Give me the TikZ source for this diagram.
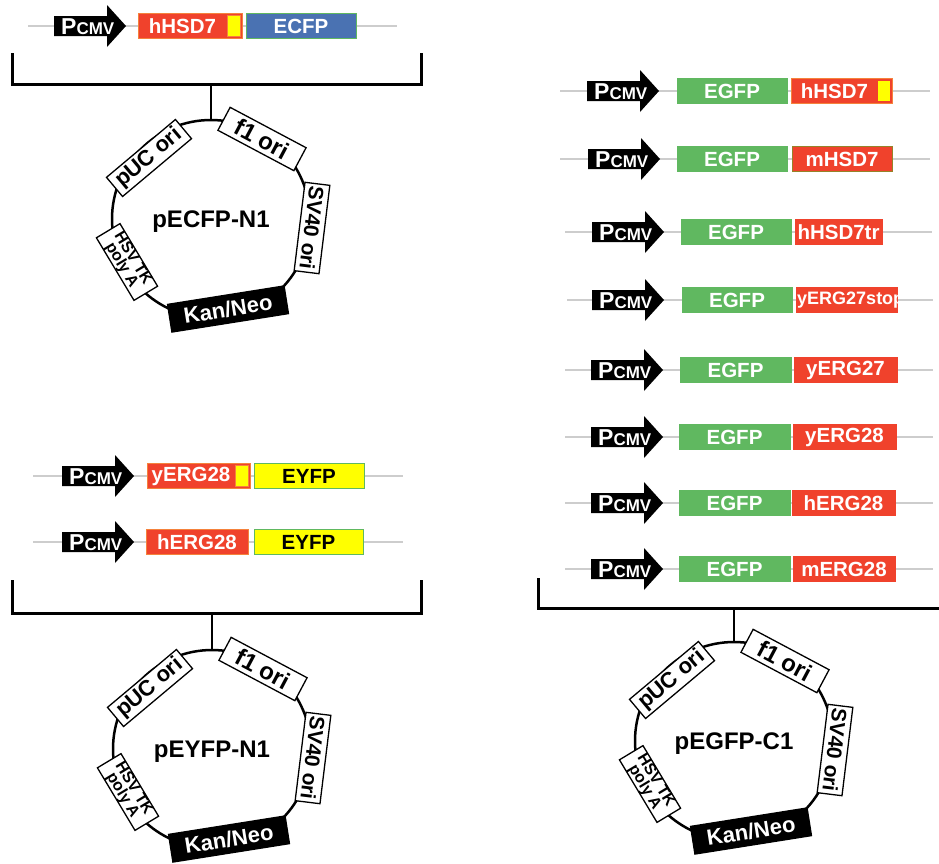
\documentclass[tikz,border=0pt]{standalone}
\usepackage{fontspec}
\setmainfont{Liberation Sans}
\definecolor{gred}{RGB}{240,66,44}
\definecolor{gorange}{RGB}{245,130,60}
\definecolor{ggreen}{RGB}{96,184,96}
\definecolor{gblue}{RGB}{74,114,178}
\definecolor{gyellow}{RGB}{255,255,0}
\definecolor{glinec}{RGB}{205,205,205}
\definecolor{golive}{RGB}{150,130,40}
\tikzset{
  backbone/.style={draw=glinec, line width=1.2pt},
  genebox/.style={rectangle, anchor=west, minimum height=25pt, inner sep=0pt, outer sep=0pt, line width=1pt, font=\bfseries\fontsize{20.5}{24}\selectfont},
  redbox/.style={genebox, fill=gred, draw=gred, text=white},
  redboxo/.style={genebox, fill=gred, draw=gorange, text=white},
  grbox/.style={genebox, fill=ggreen, draw=ggreen, text=white},
  bluebox/.style={genebox, fill=gblue, draw=ggreen, text=white},
  yelbox/.style={genebox, fill=gyellow, draw=ggreen, text=black},
  tabbox/.style={rectangle, anchor=east, fill=gyellow, draw=gorange, minimum width=13pt, minimum height=21pt, inner sep=0pt, line width=1pt},
  ptext/.style={anchor=base west, inner sep=0pt, text=white, font=\bfseries},
  feat/.style={rectangle, draw=black, fill=white, line width=1.3pt, inner sep=0pt, font=\bfseries\fontsize{21}{21}\selectfont},
  plas/.style={circle, draw=black, line width=2.5pt, minimum size=198pt, inner sep=0pt},
  plaslabel/.style={inner sep=0pt, font=\bfseries\fontsize{24}{24}\selectfont},
  bracket/.style={draw=black, line width=3pt},
}
\newcommand\pcmvarrow[3]{%
  \fill[black] (#2,#3-10) -- ++(53,0) -- ++(0,-11) -- ++(19,21) -- ++(-19,21) -- ++(0,-11) -- ++(-53,0) -- cycle;
  \node[ptext] (#1) at (#2+7,#3+8) {\fontsize{23}{23}\selectfont P\fontsize{17}{17}\selectfont CMV};
}
\newcommand\plasmidmap[4]{%
  \node[plas] (#1) at (#2,#3) {};
  \node[plaslabel] (#1lab) at (#2,#3+3) {#4};
  \begin{scope}[shift={(#2,#3)}]
    \node[feat, minimum width=90pt, minimum height=25pt, rotate=40, font=\bfseries\fontsize{22}{22}\selectfont] (#1puc) at (-62,-61) {pUC ori};
    \node[feat, minimum width=86pt, minimum height=26pt, rotate=-28, font=\bfseries\fontsize{24}{24}\selectfont] (#1f1) at (51,-80) {f1 ori};
    \node[feat, minimum width=89pt, minimum height=25pt, rotate=-97] (#1sv) at (101,9) {SV40 ori};
    \node[feat, minimum width=73pt, minimum height=27pt, rotate=-59, align=center, font=\bfseries\fontsize{16}{13}\selectfont] (#1hsv) at (-84,43) {HSV TK\\poly A};
    \node[feat, fill=black, text=white, minimum width=118pt, minimum height=28pt, rotate=9, font=\bfseries\fontsize{22}{22}\selectfont] (#1kan) at (17,90) {Kan/Neo};
  \end{scope}}
\begin{document}
\begin{tikzpicture}[x=1pt,y=-1pt]
\useasboundingbox (0,0) rectangle (939,863);
\fill[white] (0,0) rectangle (939,863);

% ---------- top left construct ----------
\coordinate (a1) at (28,26); \coordinate (a2) at (397,26);
\draw[backbone] (a1) -- (a2);
\pcmvarrow{ap}{54}{26}
\node[redboxo, minimum width=104pt] (ahsd) at (138,26) {\hspace*{-15pt}hHSD7};
\node[tabbox] (atab) at ([xshift=-1pt]ahsd.east) {};
\node[bluebox, minimum width=110pt] (aecfp) at (246,26) {ECFP};

% bracket 1
\coordinate (b1a) at (12,53); \coordinate (b1b) at (12,84);
\coordinate (b1c) at (421,84); \coordinate (b1d) at (421,53);
\coordinate (b1s) at (211,84);
\draw[bracket] (b1a) -- (b1b) -- (b1c) -- (b1d);
\plasmidmap{pa}{211}{219}{pECFP-N1}
\draw[bracket, line width=2.5pt] (b1s) -- (pa.north);

% ---------- bottom left constructs ----------
\coordinate (c1) at (33,476); \coordinate (c2) at (403,476);
\draw[backbone] (c1) -- (c2);
\pcmvarrow{cp}{62}{476}
\node[redboxo, minimum width=103pt] (cy28) at (147,476) {\hspace*{-15pt}yERG28};
\node[tabbox] (ctab) at ([xshift=-1pt]cy28.east) {};
\node[yelbox, minimum width=110pt] (ceyfp) at (254,476) {EYFP};

\coordinate (d1) at (33,542); \coordinate (d2) at (403,542);
\draw[backbone] (d1) -- (d2);
\pcmvarrow{dp}{62}{542}
\node[redboxo, minimum width=102pt] (dh28) at (146,542) {hERG28};
\node[yelbox, minimum width=109pt] (deyfp) at (254,542) {EYFP};

% bracket 2
\coordinate (b2a) at (12,580); \coordinate (b2b) at (12,613);
\coordinate (b2c) at (421,613); \coordinate (b2d) at (421,580);
\coordinate (b2s) at (212,613);
\draw[bracket] (b2a) -- (b2b) -- (b2c) -- (b2d);
\plasmidmap{pb}{212}{749}{pEYFP-N1}
\draw[bracket, line width=2.5pt] (b2s) -- (pb.north);

% ---------- right constructs ----------
% row 1
\coordinate (r1a) at (560,91); \coordinate (r1b) at (930,91);
\draw[backbone] (r1a) -- (r1b);
\pcmvarrow{r1p}{587}{91}
\node[grbox, minimum width=110pt] (r1g) at (677,91) {EGFP};
\node[redbox, draw=gorange, minimum width=101pt] (r1r) at (791,91) {\hspace*{-14pt}hHSD7};
\node[tabbox, draw=gred] (r1t) at ([xshift=-1.5pt]r1r.east) {};
% row 2
\coordinate (r2a) at (560,159); \coordinate (r2b) at (930,159);
\draw[backbone] (r2a) -- (r2b);
\pcmvarrow{r2p}{588}{159}
\node[grbox, minimum width=110pt] (r2g) at (677,159) {EGFP};
\node[redbox, draw=golive, minimum width=100pt] (r2r) at (792,159) {mHSD7};
% row 3
\coordinate (r3a) at (565,232); \coordinate (r3b) at (932,232);
\draw[backbone] (r3a) -- (r3b);
\pcmvarrow{r3p}{592}{232}
\node[grbox, minimum width=110pt] (r3g) at (681,232) {EGFP};
\node[redbox, minimum width=87pt] (r3r) at (795,232) {hHSD7tr};
% row 4
\coordinate (r4a) at (567,300); \coordinate (r4b) at (933,300);
\draw[backbone] (r4a) -- (r4b);
\pcmvarrow{r4p}{592}{300}
\node[grbox, minimum width=110pt] (r4g) at (682,300) {EGFP};
\node[redbox, minimum width=101pt] (r4r) at (796,300) {};
\begin{scope}
  \clip (r4r.south west) rectangle (r4r.north east);
  \node[anchor=west, inner sep=0pt, text=white, font=\bfseries\fontsize{18}{20}\selectfont] (r4t) at ([xshift=1pt]r4r.west) {yERG27stop};
\end{scope}
% row 5
\coordinate (r5a) at (565,370); \coordinate (r5b) at (933,370);
\draw[backbone] (r5a) -- (r5b);
\pcmvarrow{r5p}{591}{370}
\node[grbox, minimum width=111pt] (r5g) at (680,370) {EGFP};
\node[redbox, minimum width=103pt] (r5r) at (794,370) {yERG27};
% row 6
\coordinate (r6a) at (565,437); \coordinate (r6b) at (933,437);
\draw[backbone] (r6a) -- (r6b);
\pcmvarrow{r6p}{591}{437}
\node[grbox, minimum width=111pt] (r6g) at (679,437) {EGFP};
\node[redbox, minimum width=103pt] (r6r) at (793,437) {yERG28};
% row 7
\coordinate (r7a) at (565,503); \coordinate (r7b) at (933,503);
\draw[backbone] (r7a) -- (r7b);
\pcmvarrow{r7p}{591}{503}
\node[grbox, minimum width=111pt] (r7g) at (679,503) {EGFP};
\node[redbox, minimum width=103pt] (r7r) at (792,503) {hERG28};
% row 8
\coordinate (r8a) at (565,569); \coordinate (r8b) at (933,569);
\draw[backbone] (r8a) -- (r8b);
\pcmvarrow{r8p}{591}{569}
\node[grbox, minimum width=111pt] (r8g) at (679,569) {EGFP};
\node[redbox, minimum width=102pt] (r8r) at (793,569) {mERG28};

% bracket 3
\coordinate (b3a) at (538,578); \coordinate (b3b) at (538,608);
\coordinate (b3c) at (939,608);
\coordinate (b3s) at (734,608);
\draw[bracket] (b3a) -- (b3b) -- (b3c);
\plasmidmap{pc}{734}{741}{pEGFP-C1}
\draw[bracket, line width=2.5pt] (b3s) -- (pc.north);
\end{tikzpicture}
\end{document}
